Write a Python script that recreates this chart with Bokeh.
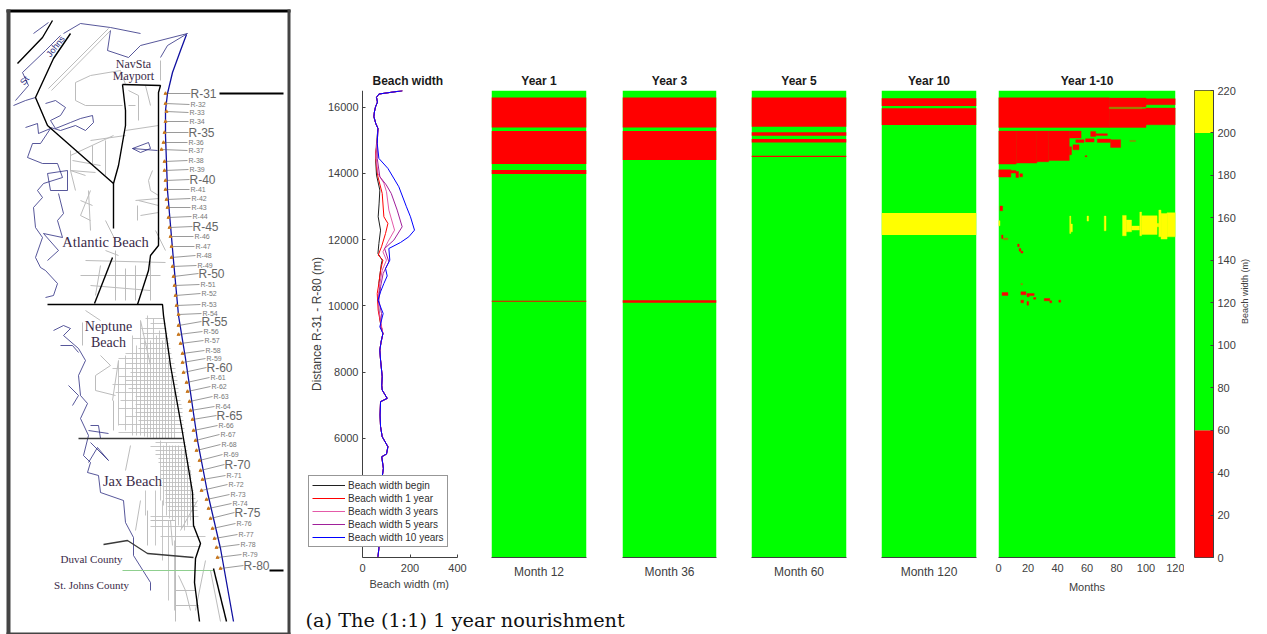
from bokeh.plotting import figure
from bokeh.layouts import row, column
from bokeh.models import Range1d, FixedTicker, Legend, LegendItem, Label, Title
from bokeh.core.properties import value
from bokeh.embed import file_html
from bokeh.resources import INLINE

# ---------------- beach width profiles (m) against distance (m) ----------------
tail_d = [9162, 8900, 8659, 8362, 7859, 7600, 7456, 7204, 7104, 6700, 6349, 6046, 5744, 5523, 5442, 5090, 4838, 4234, 3327, 2673, 2421]
tail_w = [86, 78, 73, 76, 83, 81, 83, 104, 76, 74, 76, 83, 107, 101, 81, 88, 83, 76, 70, 69, 65]
top_d = [16493, 16443, 16393, 16292, 16150, 16010, 15850, 15708, 15500, 15355]
top_w = [168, 118, 69, 59, 63, 55, 50, 48, 56, 65]

begin_d = [14902, 14449, 13946, 13493, 13100, 12687, 12284, 11881, 11580, 11378, 11250, 11076, 10850, 10673, 10450, 10270, 9867, 9465]
begin_w = [59, 55, 59, 73, 70, 66, 76, 69, 65, 83, 79, 76, 72, 69, 73, 65, 69, 76]
y1_d = [14902, 14600, 14197, 13895, 13392, 12687, 12486, 12184, 11781, 11529, 11378, 11076, 10673, 10371, 9867, 9465]
y1_w = [62, 55, 59, 65, 83, 90, 107, 97, 80, 66, 86, 76, 69, 62, 66, 76]
y3_d = [14902, 14500, 13996, 13700, 13442, 12889, 12284, 11932, 11630, 11378, 11076, 10673, 10270, 9867, 9465]
y3_w = [60, 56, 65, 90, 101, 111, 135, 107, 86, 101, 83, 73, 66, 69, 78]
y5_d = [14902, 14449, 13895, 13650, 13392, 12889, 12385, 11982, 11730, 11327, 10975, 10573, 10170, 9767, 9364]
y5_w = [62, 62, 73, 100, 121, 146, 167, 132, 93, 111, 87, 76, 69, 80, 76]
y10_d = [14902, 14449, 14147, 13593, 12989, 12687, 12284, 12083, 11911, 11730, 11378, 11126, 10900, 10673, 10422, 10170, 9767, 9364]
y10_w = [62, 69, 107, 153, 185, 202, 219, 195, 160, 111, 115, 97, 104, 90, 76, 65, 87, 73]

series_names = ["Beach width begin", "Beach width 1 year", "Beach width 3 years", "Beach width 5 years", "Beach width 10 years"]
series_colors = ["#202020", "#ff0000", "#e45aa8", "#a0209a", "#0000ff"]

# ---------------- snapshot panels: (distance from, distance to) ----------------
year1_red = [(15381, 16287), (14278, 15275), (13976, 14097), (10124, 10154)]
year3_red = [(15381, 16287), (14399, 15275), (10094, 10170)]
year5_red = [(15405, 16287), (15133, 15236), (14927, 15033), (14489, 14529)]
year10_red = [(16030, 16263), (15456, 15961)]
year10_yellow = [(12134, 12798)]

# ---------------- Year 1-10: (month from, month to, distance from, distance to) ----------------
hist_red = [
    (0, 75, 15386, 16282), (75, 100, 15386, 15950), (100, 120, 15466, 15970), (75, 100, 15999, 16272),
    (100, 120, 16070, 16252), (0, 12, 14278, 15275), (12, 26, 14308, 15275), (26, 34, 14349, 15275),
    (34, 48, 14389, 15275), (48, 56, 15063, 15275), (50.5, 54.6, 14711, 14862), (48, 49.5, 14560, 14800),
    (52.4, 58, 14933, 15013), (59, 64.8, 14943, 15043), (62.5, 65.9, 15114, 15265), (65.9, 73.8, 15144, 15194),
    (67, 76, 14933, 15033), (76, 82.8, 14782, 15013), (58.7, 60, 14500, 14530), (0, 8.4, 13885, 14107),
    (8.4, 11.8, 14006, 14087), (11.8, 13.6, 13875, 14056), (14.5, 16.3, 13895, 13986),
    (1, 2.8, 12869, 13010), (2.1, 3, 12033, 12134), (13, 14, 11781, 11862), (14, 15.2, 11650, 11731),
    (15.2, 16.6, 11590, 11650), (2.4, 6.4, 10311, 10401), (15.2, 18.6, 10331, 10422), (19.3, 24.2, 10311, 10371),
    (19.3, 20.8, 10271, 10311), (23.8, 25.3, 10200, 10251), (31, 34.8, 10150, 10220), (34.8, 36.1, 10089, 10150),
    (15.2, 17, 10089, 10170), (19.3, 20.4, 10019, 10130), (40.9, 42.2, 10110, 10170),
]
hist_mixed = [(75, 97.4, 15950, 15999), (89, 93, 14962, 14993), (3.3, 6.4, 11993, 12043), (15.2, 16.3, 10633, 10673)]
hist_yellow = [
    (0, 1, 12416, 12567), (48.3, 49, 12184, 12708), (49, 50.1, 12234, 12466), (60, 61.1, 12557, 12708),
    (71.7, 72.9, 12265, 12708), (84.1, 86.6, 12114, 12728), (86.6, 90.2, 12234, 12587), (90.2, 95.6, 12285, 12406),
    (95.8, 97, 12114, 12828), (97, 107.5, 12154, 12718), (107.5, 108.7, 12385, 12486), (108.7, 110.2, 12083, 12889),
    (110.2, 114.3, 12013, 12788), (114.3, 120, 12083, 12808),
]

# ---------------- colour bar ----------------
cbar_edges = [0, 60, 200, 220]
cbar_colors = ["#ff0000", "#00ff00", "#ffff00"]
cbar_ticks = [0, 20, 40, 60, 80, 100, 120, 140, 160, 180, 200, 220]

# ---------------- map: read in picture coordinates ----------------
coast = [(186, 34), (180, 50), (172, 72), (167, 93), (165, 110), (165, 135), (167, 190), (170, 225), (173, 260),
         (178, 315), (185, 358), (197, 440), (207, 492), (220, 548), (233, 621)]
roads = [
    [(122, 84), (160, 85), (158, 92), (158, 245), (150, 255), (148, 270), (137, 304)],
    [(122, 84), (125, 110), (125, 125), (118, 165), (113, 183), (113, 228)],
    [(113, 183), (47, 125), (35, 97), (53, 58), (70, 33)],
    [(112, 257), (94, 303)],
    [(47, 304), (162, 304), (163, 315), (170, 365), (182, 432), (192, 492), (193, 525), (200, 543), (195, 558), (194, 582), (199, 621)],
    [(17, 63), (42, 37), (52, 20)],
    [(213, 568), (226, 621)],
]
dark_roads = [
    [(78, 438), (182, 438)],
    [(103, 544), (127, 540), (147, 553), (193, 557)],
]
county_line = [(122, 570), (213, 570)]
water = [
    [(13, 105), (25, 100), (35, 97)],
    [(45, 103), (55, 100), (65, 107), (60, 115), (50, 120), (55, 128), (70, 122), (80, 118), (92, 115), (93, 122), (85, 130), (75, 125), (60, 130), (50, 127)],
    [(25, 127), (37, 123), (38, 133), (50, 128), (40, 143), (32, 143), (27, 157), (42, 163), (57, 163), (62, 177), (43, 183), (37, 190), (42, 197), (33, 207),
     (35, 227), (42, 237), (35, 257), (40, 267), (45, 270), (57, 283), (53, 295), (45, 297)],
    [(47, 173), (67, 170), (67, 190), (50, 190), (47, 173)],
    [(58, 193), (63, 213), (57, 220), (62, 237), (43, 233), (58, 250), (47, 260)],
    [(53, 330), (63, 325), (70, 328), (63, 335), (78, 348), (85, 360), (78, 375), (80, 395), (87, 403), (80, 418), (88, 435), (83, 455), (90, 462), (87, 472),
     (98, 475), (100, 492), (123, 500), (125, 522), (133, 537), (133, 555), (150, 582), (150, 590)],
    [(60, 345), (72, 345), (78, 352)], [(68, 385), (78, 395), (72, 405)], [(90, 442), (108, 460), (97, 447), (88, 462)],
    [(88, 430), (108, 433)], [(90, 425), (98, 425), (100, 438)],
    [(63, 33), (80, 23), (110, 27), (140, 33)],
    [(110, 30), (107, 50), (128, 57), (140, 45), (187, 33), (167, 45), (160, 57)],
    [(132, 148), (148, 142), (150, 148), (140, 152), (132, 148), (157, 150)],
    [(15, 100), (28, 85), (22, 72), (45, 50), (60, 35)],
    [(33, 33), (48, 22)],
]
gray_paths = [
    [(48, 88), (108, 28)], [(51, 90), (110, 30)],
    [(75, 82), (90, 75), (120, 70), (125, 84)], [(75, 82), (75, 100), (85, 105), (122, 105)],
    [(125, 130), (158, 125)], [(90, 140), (125, 135)], [(70, 155), (113, 135)],
    [(152, 170), (148, 180), (150, 190), (158, 195)],
    [(135, 200), (158, 198)], [(137, 205), (137, 220)], [(90, 190), (80, 215), (90, 220)],
    [(70, 150), (70, 170), (85, 175)], [(92, 145), (92, 165)], [(105, 140), (105, 175)],
    [(72, 160), (100, 165)], [(75, 190), (70, 170), (95, 172)], [(80, 200), (92, 205)], [(90, 230), (88, 190)], [(105, 220), (115, 240)],
    [(128, 90), (138, 95), (138, 120)], [(128, 105), (135, 105)], [(145, 85), (150, 105)], [(160, 60), (160, 80)],
    [(138, 200), (158, 205)], [(140, 215), (158, 212)], [(155, 230), (165, 250)],
    [(85, 260), (165, 262)], [(80, 275), (160, 275)], [(90, 285), (150, 290)], [(115, 250), (115, 300)], [(135, 265), (135, 300)], [(150, 260), (150, 300)],
    [(105, 250), (118, 255)], [(125, 268), (125, 300)], [(100, 265), (95, 295)], [(85, 310), (100, 320)],
    [(82, 322), (82, 345)], [(100, 355), (110, 365), (95, 375), (95, 390), (115, 395)], [(118, 360), (112, 400)],
    [(140, 320), (150, 365)], [(113, 400), (113, 430)], [(130, 445), (125, 470)],
    [(140, 500), (135, 530)], [(150, 520), (175, 520)], [(147, 510), (147, 545)], [(170, 520), (172, 545)],
    [(175, 520), (175, 621)], [(197, 500), (180, 530)], [(205, 560), (195, 610)], [(210, 570), (220, 621)],
    [(178, 575), (185, 590), (190, 610)], [(175, 590), (195, 590)], [(175, 605), (198, 605)],
]
street_rows = [(318, 145, 163), (323, 150, 165), (328, 140, 166), (333, 142, 167), (338, 132, 168), (343, 140, 169), (348, 138, 170), (353, 125, 171),
               (358, 118, 172), (363, 125, 174), (368, 112, 175), (372, 130, 175), (376, 118, 176), (380, 125, 177), (384, 112, 177), (388, 128, 178),
               (392, 115, 178), (396, 135, 179), (400, 120, 180), (404, 135, 181), (408, 118, 182), (412, 135, 182), (416, 125, 182), (420, 138, 183),
               (424, 118, 183), (428, 140, 184), (432, 118, 184), (442, 155, 185), (446, 150, 186), (450, 155, 187), (454, 155, 187), (458, 158, 188),
               (462, 158, 189), (466, 160, 190), (470, 160, 190), (474, 160, 191), (478, 160, 191), (482, 162, 192), (486, 162, 192), (490, 164, 193),
               (494, 165, 194), (498, 165, 195), (502, 165, 196), (506, 167, 197), (510, 168, 197), (516, 150, 198),
               (526, 150, 195), (536, 160, 205), (546, 175, 200)]
street_cols = [(118, 360, 425), (125, 355, 430), (132, 335, 435), (136, 345, 435), (140, 320, 435), (144, 340, 436), (147, 315, 437), (150, 340, 437), (153, 318, 438),
               (156, 335, 438), (159, 330, 438), (162, 340, 438), (165, 335, 438), (168, 360, 438), (171, 375, 438), (174, 390, 438),
               (160, 440, 500), (163, 445, 505), (166, 442, 515), (169, 445, 518), (172, 445, 520), (175, 445, 522),
               (178, 445, 525), (181, 448, 528), (184, 450, 530), (187, 460, 525), (190, 470, 520), (155, 490, 545), (162, 500, 560), (168, 520, 600),
               (174, 540, 610), (145, 490, 515)]
r_numbers = list(range(31, 81))
dot_x = [165, 165, 166, 165, 164, 163, 161, 164, 164, 165, 165, 166, 167, 168, 169, 170, 171, 171, 172, 173, 174, 175, 176, 178, 178,
         178, 180, 182, 182, 183, 186, 187, 189, 190, 192, 193, 195, 196, 199, 200, 202, 201, 206, 208, 210, 212, 214, 216, 217, 220]
dot_y = [93, 103, 111, 121, 132, 142, 149, 161, 170, 180, 189, 199, 207, 217, 227, 236, 246, 257, 266, 276, 285, 295, 305, 314, 325,
         334, 343, 353, 362, 372, 382, 391, 401, 410, 419, 430, 440, 450, 460, 470, 479, 490, 499, 508, 518, 528, 538, 547, 557, 568]
label_x = [189, 188, 187, 187, 187, 186, 186, 186, 187, 188, 188, 189, 189, 190, 191, 192, 193, 194, 195, 197, 198, 199, 199, 200, 200,
           201, 202, 203, 204, 205, 208, 209, 211, 213, 215, 216, 218, 219, 221, 223, 224, 226, 228, 230, 233, 234, 236, 238, 240, 242]
label_y = [93, 104, 112, 121, 132, 142, 150, 160, 169, 179, 189, 198, 207, 216, 226, 236, 246, 255, 265, 273, 284, 293, 304, 313, 321,
           331, 340, 350, 358, 367, 377, 386, 396, 406, 415, 425, 434, 444, 454, 464, 475, 484, 494, 503, 512, 523, 534, 544, 554, 565]
place_names = ["NavSta", "Mayport", "Atlantic Beach", "Neptune", "Beach", "Jax Beach", "Duval County", "St. Johns County"]
place_x = [133, 133, 105, 108, 108, 132, 91, 91]
place_y = [63, 75, 241, 326, 342, 480, 558, 584]
place_size = ["12px", "12px", "14.5px", "14px", "14px", "14.5px", "11px", "11px"]
frame_bars = [(6, 290, 9, 12, "#000000"), (6, 10, 9, 634, "#444444"), (287, 290, 9, 634, "#444444"), (6, 290, 632, 634, "#444444")]
section_marks = [[(219, 93), (283, 93)], [(269, 570), (283, 570)]]

caption = "(a) The (1:1) 1 year nourishment"
beach_xlabel = "Beach width (m)"

FONT = "Liberation Sans"
TXT = "#404040"
Y0, Y1 = 2400, 16500
TOP, FH, BOT = 90, 467, 41


def xy(path):
    return [q[0] for q in path], [q[1] for q in path]


# ---------------- map figure ----------------
m = figure(width=300, height=634, x_range=Range1d(0, 300), y_range=Range1d(634, 0), toolbar_location=None,
           output_backend="svg", min_border=0, outline_line_color=None)
m.axis.visible = False
m.grid.visible = False
for path in gray_paths:
    m.line(*xy(path), line_color="#bcbcbc", line_width=1)
m.segment([r[1] for r in street_rows], [r[0] for r in street_rows], [r[2] for r in street_rows], [r[0] for r in street_rows],
          line_color="#c0c0c0", line_width=0.9)
m.segment([c[0] for c in street_cols], [c[1] for c in street_cols], [c[0] for c in street_cols], [c[2] for c in street_cols],
          line_color="#c0c0c0", line_width=0.9)
for path in water:
    m.line(*xy(path), line_color="#2c2c80", line_width=0.8)
m.line(*xy(county_line), line_color="#8fcf8f", line_width=1)
for path in dark_roads:
    m.line(*xy(path), line_color="#3a3a3a", line_width=1.3)
for path in roads:
    m.line(*xy(path), line_color="#000000", line_width=1.4)
m.line(*xy(coast), line_color="#1010a0", line_width=1.3)
m.segment(dot_x, dot_y, [x + 1 for x in label_x], label_y, line_color="#555555", line_width=0.6)
m.scatter(dot_x, dot_y, size=3, marker="triangle", color="#c87820")
major = [i for i, n in enumerate(r_numbers) if n % 5 == 0 or n == 31]
minor = [i for i, n in enumerate(r_numbers) if not (n % 5 == 0 or n == 31)]
m.text([label_x[i] + 2 for i in minor], [label_y[i] for i in minor], text=[f"R-{r_numbers[i]}" for i in minor],
       text_font=value(FONT), text_font_size="7px", text_color="#777777", text_baseline="middle")
m.text([label_x[i] + 1 for i in major], [label_y[i] for i in major], text=[f"R-{r_numbers[i]}" for i in major],
       text_font=value(FONT), text_font_size="12px", text_color="#666666", text_baseline="middle")
for name, x, y, s in zip(place_names, place_x, place_y, place_size):
    m.text([x], [y], text=[name], text_font=value("Liberation Serif"), text_font_size=s, text_color="#3a2a48",
           text_align="center", text_baseline="middle")
m.text([24], [80], text=["St"], angle=0.9, text_font=value(FONT), text_font_size="9px", text_color="#2c2c80",
       text_align="center", text_baseline="middle")
m.text([55], [46], text=["Johns"], angle=0.9, text_font=value(FONT), text_font_size="9px", text_color="#2c2c80",
       text_align="center", text_baseline="middle")
for path in section_marks:
    m.line(*xy(path), line_color="#000000", line_width=2)
for x0, x1, y0, y1, c in frame_bars:
    m.quad(left=[x0], right=[x1], top=[y0], bottom=[y1], fill_color=c, line_color=None)


def style_title(p, text):
    p.title.text = text
    p.title.align = "center"
    p.title.text_font = FONT
    p.title.text_font_size = "12px"
    p.title.text_font_style = "bold"
    p.title.text_color = "#1a1a1a"
    p.title.offset = 0
    p.title.standoff = 5


def style_axis(ax):
    ax.major_label_text_font = FONT
    ax.major_label_text_font_size = "11px"
    ax.major_label_text_color = TXT
    ax.axis_label_text_font = FONT
    ax.axis_label_text_font_style = "normal"
    ax.axis_label_text_color = TXT
    ax.axis_line_color = TXT
    ax.axis_line_width = 1
    ax.major_tick_line_color = TXT
    ax.major_tick_in = 3
    ax.major_tick_out = 0
    ax.minor_tick_line_color = None


def panel(left, fw, right, x_range, title):
    p = figure(width=left + fw + right, height=TOP + FH + BOT, x_range=x_range, y_range=Range1d(Y0, Y1),
               toolbar_location=None, output_backend="svg", min_border_left=left, min_border_right=right,
               min_border_top=TOP, min_border_bottom=BOT, outline_line_color=None)
    p.grid.visible = False
    style_title(p, title)
    return p


# ---------------- beach width profile ----------------
b = panel(5, 152, 13, Range1d(-240, 400), "Beach width")
b.title.align = "left"
b.title.offset = 67
style_axis(b.xaxis[0])
style_axis(b.yaxis[0])
b.xaxis[0].bounds = (0, 400)
b.yaxis[0].fixed_location = 0
b.xaxis[0].ticker = FixedTicker(ticks=[0, 200, 400])
b.yaxis[0].ticker = FixedTicker(ticks=[4000, 6000, 8000, 10000, 12000, 14000, 16000])
b.yaxis[0].major_label_standoff = 4
b.xaxis[0].major_label_standoff = 6
b.add_layout(Title(text=beach_xlabel, align="left", offset=64, standoff=2, text_font=FONT, text_font_size="11px",
                   text_font_style="normal", text_color=TXT), "below")
b.yaxis[0].axis_label = "Distance R-31 - R-80 (m)"
b.yaxis[0].axis_label_text_font_size = "12px"
b.yaxis[0].axis_label_standoff = 1

profiles = [(begin_d, begin_w), (y1_d, y1_w), (y3_d, y3_w), (y5_d, y5_w), (y10_d, y10_w)]
items = []
for (dd, ww), name, col in zip(profiles, series_names, series_colors):
    r = b.line(top_w + ww + tail_w, top_d + dd + tail_d, line_color=col, line_width=1)
    items.append(LegendItem(label=name, renderers=[r]))
leg = Legend(items=items, location=(3, 10), label_text_font=FONT, label_text_font_size="10px", label_text_color="#303030",
             glyph_width=33, glyph_height=12, label_height=12, label_standoff=3, spacing=1, padding=3, margin=0,
             border_line_color="#303030", border_line_width=1, background_fill_color="#ffffff", background_fill_alpha=1)
b.add_layout(leg)


# ---------------- snapshot panels ----------------
def snapshot(left, fw, right, title, label, red, yellow=()):
    p = panel(left, fw, right, Range1d(0, 1), title)
    p.yaxis.visible = False
    style_axis(p.xaxis[0])
    p.xaxis[0].ticker = FixedTicker(ticks=[])
    p.xaxis[0].axis_label = label
    p.xaxis[0].axis_label_text_font_size = "12px"
    p.xaxis[0].axis_label_standoff = 7
    p.quad(left=[0], right=[1], bottom=[Y0], top=[Y1], fill_color="#00ff00", line_color=None)
    for bands, col in ((red, "#ff0000"), (yellow, "#ffff00")):
        if bands:
            p.quad(left=[0] * len(bands), right=[1] * len(bands), bottom=[q[0] for q in bands], top=[q[1] for q in bands],
                   fill_color=col, line_color=None)
    return p


s1 = snapshot(21, 95, 18, "Year 1", "Month 12", year1_red)
s3 = snapshot(18, 94, 17, "Year 3", "Month 36", year3_red)
s5 = snapshot(18, 95, 17, "Year 5", "Month 60", year5_red)
s10 = snapshot(18, 95, 11, "Year 10", "Month 120", year10_red, year10_yellow)

# ---------------- history panel ----------------
h = panel(11, 177, 9, Range1d(0, 120), "Year 1-10")
h.yaxis.visible = False
style_axis(h.xaxis[0])
h.xaxis[0].ticker = FixedTicker(ticks=[0, 20, 40, 60, 80, 100, 120])
h.xaxis[0].major_tick_line_color = None
h.xaxis[0].major_label_standoff = 6
h.xaxis[0].axis_label = "Months"
h.xaxis[0].axis_label_text_font_size = "11px"
h.xaxis[0].axis_label_standoff = 6
h.quad(left=[0], right=[120], bottom=[Y0], top=[Y1], fill_color="#00ff00", line_color=None)
for rects, col in ((hist_red, "#ff0000"), (hist_mixed, "#a08000"), (hist_yellow, "#ffff00")):
    h.quad(left=[q[0] for q in rects], right=[q[1] for q in rects], bottom=[q[2] for q in rects], top=[q[3] for q in rects],
           fill_color=col, line_color=col, line_width=0.4)

# ---------------- colour bar ----------------
cb = figure(width=10 + 23 + 40, height=TOP + FH + BOT, x_range=Range1d(0, 1), y_range=Range1d(0, 220), toolbar_location=None,
            output_backend="svg", min_border_left=10, min_border_right=40, min_border_top=TOP, min_border_bottom=BOT,
            y_axis_location="right", outline_line_color="#404040")
cb.grid.visible = False
cb.xaxis.visible = False
style_axis(cb.yaxis[0])
cb.yaxis[0].ticker = FixedTicker(ticks=cbar_ticks)
cb.yaxis[0].major_label_standoff = 4
cb.yaxis[0].axis_label = "Beach width (m)"
cb.yaxis[0].axis_label_text_font_size = "9px"
cb.yaxis[0].axis_label_standoff = 6
cb.yaxis[0].axis_label_orientation = 1.5708
cb.quad(left=[0] * 3, right=[1] * 3, bottom=cbar_edges[:-1], top=cbar_edges[1:], fill_color=cbar_colors, line_color=None)

# ---------------- caption ----------------
cap = figure(width=957, height=36, toolbar_location=None, output_backend="svg", min_border=0, outline_line_color=None,
             x_range=Range1d(0, 1), y_range=Range1d(0, 1))
cap.axis.visible = False
cap.grid.visible = False
cap.add_layout(Label(x=5, y=14, x_units="screen", y_units="screen", text=caption, text_font="DejaVu Serif",
                     text_font_size="19.3px", text_color="#111111", text_baseline="middle"))

page = row(m, column(row(b, s1, s3, s5, s10, h, cb, spacing=0), cap, spacing=0), spacing=0)
open("out.html", "w").write(file_html(page, INLINE))
